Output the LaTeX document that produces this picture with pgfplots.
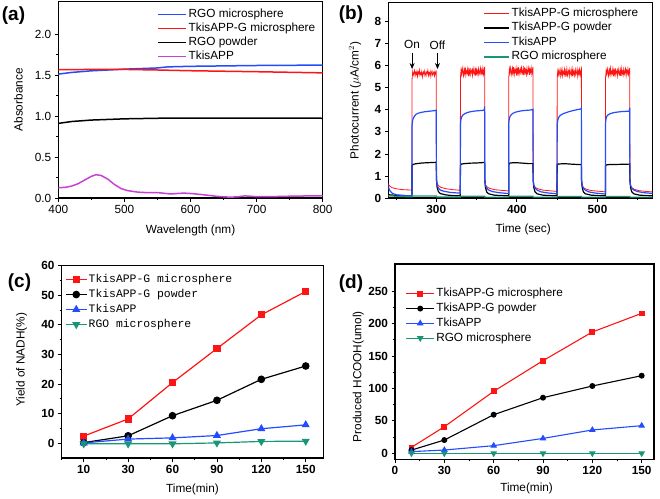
\documentclass[border=0pt]{standalone}
\usepackage{pgfplots}
\pgfplotsset{compat=1.18}
\usepackage{fontspec}
\setmainfont{Liberation Sans}
\newfontfamily\monofont{Liberation Mono}
\usetikzlibrary{arrows.meta}
\definecolor{cRed}{RGB}{255,20,20}
\definecolor{cBlue}{RGB}{35,75,255}
\definecolor{cGreen}{RGB}{25,150,120}
\definecolor{cPurple}{RGB}{200,65,210}
\pgfplotsset{
  panel/.style={
    scale only axis,
    axis line style={line width=1.2pt},
    tick style={black, line width=0.8pt},
    major tick length=3.5pt, minor tick length=2pt,
    tick align=outside, xtick pos=bottom, ytick pos=left,
    legend cell align=left,
    legend style={draw=none, fill=none,
      font=\fontsize{11.8}{13}\selectfont, row sep=0.3pt, inner sep=0pt,
      nodes={inner sep=1.5pt, text height=8.6pt, text depth=2.6pt}},
    label style={font=\fontsize{11.8}{13}\selectfont},
    tick label style={font=\fontsize{11.8}{13}\selectfont},
    /pgf/number format/assume math mode=true,
    every axis plot/.append style={line width=1.2pt},
  },
  boldticks/.style={tick label style={font=\bfseries\fontsize{11.8}{13}\selectfont}},
  linelegend/.style={legend image code/.code={\draw[##1] (0pt,0pt) -- (#1,0pt);}},
  thicklinelegend/.style={legend image code/.code={\draw[##1, line width=1.4pt] (0pt,0pt) -- (#1,0pt);}},
  marklegend/.style={legend image code/.code={\draw[mark repeat=2, mark phase=2, ##1] plot coordinates {(0pt,0pt) (#1,0pt) (2*#1,0pt)};}},
}
\begin{document}
\begin{tikzpicture}
\useasboundingbox (0pt,0pt) rectangle (660pt,-498pt);

% ---------------- (a)
\begin{axis}[panel, linelegend=28pt, at={(58.3pt,-1.7pt)}, anchor=north west,
  width=264.4pt, height=196.3pt,
  xmin=400, xmax=800, ymin=0, ymax=2.4,
  xtick={400,500,...,800}, minor x tick num=1,
  ytick={0,0.5,...,2}, minor y tick num=1,
  yticklabel style={/pgf/number format/fixed, /pgf/number format/fixed zerofill, /pgf/number format/precision=1},
  xlabel={Wavelength (nm)}, ylabel={Absorbance},
  xlabel style={at={(axis description cs:0.5,-0.163)}, anchor=center},
  ylabel style={at={(axis description cs:-0.151,0.5)}, anchor=center},
  every axis plot/.append style={line width=1.5pt},
  legend style={at={(axis description cs:0.375,0.972)}, anchor=north west, row sep=-0.2pt},
]
\addplot[cBlue] coordinates {(400,1.515) (420,1.535) (450,1.555) (500,1.575) (550,1.59) (565,1.603) (600,1.61) (700,1.62) (800,1.625)};
\addlegendentry{RGO microsphere}
\addplot[cRed] coordinates {(400,1.568) (450,1.572) (500,1.572) (550,1.565) (600,1.556) (700,1.544) (800,1.53)};
\addlegendentry{TkisAPP-G microsphere}
\addplot[black] coordinates {(400,0.912) (420,0.935) (450,0.953) (500,0.968) (550,0.975) (600,0.978) (700,0.978) (800,0.975)};
\addlegendentry{RGO powder}
\addplot[cPurple] coordinates {(400,0.126) (410,0.13) (420,0.145) (430,0.175) (440,0.22) (450,0.265) (457,0.285) (465,0.275) (475,0.23) (485,0.165) (495,0.115) (505,0.09) (520,0.072) (535,0.065) (550,0.066) (560,0.058) (570,0.049) (580,0.055) (590,0.06) (600,0.055) (610,0.048) (625,0.035) (640,0.02) (660,0.01) (672,0.015) (682,0.026) (690,0.022) (700,0.016) (720,0.016) (750,0.022) (800,0.028)};
\addlegendentry{TkisAPP}
\end{axis}
\node[font=\bfseries\fontsize{19}{20}\selectfont] at (13.5pt,-16pt) {(a)};

% ---------------- (b)
\begin{axis}[panel, boldticks, thicklinelegend=25pt, at={(388.3pt,-2.7pt)}, anchor=north west,
  width=264.4pt, height=195.3pt,
  xmin=240.5, xmax=568.5, ymin=0, ymax=8.86,
  xtick={300,400,500}, minor xtick={250,350,450,550},
  ytick={0,1,...,8},
  xlabel={Time (sec)}, ylabel={Photocurrent ($\mu$A/cm$^{2}$)},
  xlabel style={at={(axis description cs:0.51,-0.16)}, anchor=center},
  ylabel style={at={(axis description cs:-0.126,0.5)}, anchor=center},
  legend style={at={(axis description cs:0.36,0.983)}, anchor=north west, row sep=0.3pt},
]
\addplot[cRed, line width=0.8pt] coordinates {
(240,0.68) (242,0.55) (245,0.47) (250,0.42) (258,0.38) (269.9,0.36)
(270,5.40) (270.75,5.72) (271.5,5.58) (272.25,5.66) (273,5.78) (273.75,5.55) (274.5,5.69) (275.25,5.62) (276,5.75) (276.75,5.52) (277.5,5.70) (278.25,5.64) (279,5.80) (279.75,5.57) (280.5,5.68) (281.25,5.61) (282,5.74) (282.75,5.50) (283.5,5.66) (284.25,5.72) (285,5.59) (285.75,5.77) (286.5,5.63) (287.25,5.54) (288,5.71) (288.75,5.66) (289.5,5.79) (290.25,5.56) (291,5.68) (291.75,5.60) (292.5,5.73) (293.25,5.52) (294,5.69) (294.75,5.76) (295.5,5.58) (296.25,5.65) (297,5.71) (297.75,5.55) (298.5,5.74) (299.25,5.62) (300,5.70)
(300.2,0.9) (301,0.65) (303,0.55) (306,0.48) (312,0.42) (320,0.38) (329.8,0.35)
(330,5.45) (330.75,5.80) (331.5,5.62) (332.25,5.88) (333,5.70) (333.75,5.55) (334.5,5.84) (335.25,5.66) (336,5.92) (336.75,5.58) (337.5,5.76) (338.25,5.68) (339,5.86) (339.75,5.52) (340.5,5.79) (341.25,5.64) (342,5.90) (342.75,5.60) (343.5,5.74) (344.25,5.82) (345,5.57) (345.75,5.87) (346.5,5.69) (347.25,5.62) (348,5.83) (348.75,5.55) (349.5,5.91) (350.25,5.66) (351,5.77) (351.75,5.59) (352.5,5.85) (353.25,5.63) (354,5.72) (354.75,5.88) (355.5,5.56) (356.25,5.80) (357,5.67) (357.75,5.89) (358.5,5.61) (359.25,5.78) (360,5.95)
(360.2,0.85) (361,0.6) (363,0.5) (366,0.44) (372,0.38) (380,0.35) (389.8,0.32)
(390,5.50) (390.75,5.85) (391.5,5.66) (392.25,5.90) (393,5.72) (393.75,5.58) (394.5,5.88) (395.25,5.69) (396,5.94) (396.75,5.60) (397.5,5.80) (398.25,5.71) (399,5.89) (399.75,5.55) (400.5,5.83) (401.25,5.67) (402,5.93) (402.75,5.62) (403.5,5.77) (404.25,5.86) (405,5.60) (405.75,5.90) (406.5,5.72) (407.25,5.64) (408,5.87) (408.75,5.58) (409.5,5.92) (410.25,5.68) (411,5.80) (411.75,5.61) (412.5,5.88) (413.25,5.65) (414,5.75) (414.75,5.91) (415.5,5.59) (416.25,5.83) (417,5.70) (417.75,5.90) (418.5,5.63) (419.25,5.81) (420,5.95)
(420.2,0.8) (421,0.58) (423,0.48) (426,0.42) (432,0.36) (440,0.33) (449.8,0.3)
(450,5.42) (450.75,5.76) (451.5,5.60) (452.25,5.82) (453,5.66) (453.75,5.52) (454.5,5.80) (455.25,5.63) (456,5.85) (456.75,5.55) (457.5,5.72) (458.25,5.65) (459,5.83) (459.75,5.50) (460.5,5.75) (461.25,5.61) (462,5.86) (462.75,5.57) (463.5,5.70) (464.25,5.78) (465,5.54) (465.75,5.82) (466.5,5.66) (467.25,5.58) (468,5.79) (468.75,5.52) (469.5,5.85) (470.25,5.63) (471,5.73) (471.75,5.56) (472.5,5.81) (473.25,5.60) (474,5.69) (474.75,5.84) (475.5,5.53) (476.25,5.76) (477,5.64) (477.75,5.83) (478.5,5.58) (479.25,5.74) (480,5.85)
(480.2,0.8) (481,0.55) (483,0.46) (486,0.4) (492,0.34) (500,0.31) (509.8,0.28)
(510,5.45) (510.75,5.78) (511.5,5.62) (512.25,5.85) (513,5.68) (513.75,5.54) (514.5,5.82) (515.25,5.65) (516,5.88) (516.75,5.57) (517.5,5.74) (518.25,5.66) (519,5.86) (519.75,5.52) (520.5,5.77) (521.25,5.63) (522,5.89) (522.75,5.59) (523.5,5.72) (524.25,5.80) (525,5.55) (525.75,5.84) (526.5,5.68) (527.25,5.60) (528,5.81) (528.75,5.54) (529.5,5.87) (530.25,5.64) (531,5.75) (531.75,5.58) (532.5,5.83) (533.25,5.62) (534,5.71) (534.75,5.86) (535.5,5.55) (536.25,5.78) (537,5.66) (537.75,5.85) (538.5,5.60) (539.25,5.76) (540,5.90)
(540.2,0.8) (541,0.55) (543,0.45) (546,0.39) (552,0.33) (560,0.3) (570,0.27)};
\addlegendentry{TkisAPP-G microsphere}
\addplot[black] coordinates {
(240,0.15) (250,0.12) (269.8,0.1)
(270,1.45) (271,1.52) (274,1.55) (280,1.58) (288,1.6) (295,1.61) (300,1.62)
(300.2,0.85) (301,0.5) (302.5,0.3) (305,0.2) (312,0.14) (320,0.11) (329.8,0.1)
(330,1.48) (331,1.54) (335,1.56) (342,1.58) (350,1.59) (356,1.6) (360,1.62)
(360.2,0.85) (361,0.48) (362.5,0.28) (365,0.19) (372,0.13) (380,0.11) (389.8,0.1)
(390,1.52) (391,1.58) (395,1.6) (400,1.6) (408,1.58) (414,1.56) (420,1.56)
(420.2,0.85) (421,0.48) (422.5,0.28) (425,0.19) (432,0.13) (440,0.11) (449.8,0.1)
(450,1.48) (451,1.54) (455,1.55) (462,1.55) (470,1.53) (476,1.52) (480,1.52)
(480.2,0.85) (481,0.48) (482.5,0.28) (485,0.19) (492,0.13) (500,0.11) (509.8,0.1)
(510,1.45) (511,1.5) (515,1.52) (522,1.52) (530,1.53) (536,1.53) (540,1.54)
(540.2,0.85) (541,0.48) (542.5,0.28) (545,0.19) (552,0.13) (560,0.11) (570,0.1)};
\addlegendentry{TkisAPP-G powder}
\addplot[cBlue] coordinates {
(240,0.62) (241,0.45) (243,0.3) (246,0.2) (252,0.14) (260,0.11) (269.8,0.1)
(270,3.3) (270.5,3.5) (271.5,3.62) (273,3.72) (275,3.8) (278,3.85) (282,3.89) (287,3.92) (292,3.94) (297,3.96) (300,3.98)
(300.2,0.85) (301,0.6) (302.5,0.45) (305,0.36) (310,0.3) (318,0.25) (329.8,0.22)
(330,3.35) (330.5,3.55) (331.5,3.68) (333,3.76) (335,3.82) (338,3.87) (342,3.91) (347,3.94) (352,3.96) (357,3.97) (359.5,3.99) (360,4.15)
(360.2,0.8) (361,0.58) (362.5,0.45) (365,0.36) (370,0.29) (378,0.24) (389.8,0.2)
(390,3.4) (390.5,3.58) (391.5,3.7) (393,3.78) (395,3.84) (398,3.89) (402,3.93) (407,3.96) (412,3.98) (417,3.99) (420,4.02)
(420.2,0.8) (421,0.58) (422.5,0.45) (425,0.36) (430,0.28) (438,0.23) (449.8,0.19)
(450,3.3) (450.5,3.5) (451.5,3.62) (453,3.72) (456,3.8) (460,3.86) (465,3.92) (470,3.97) (475,4.01) (479.5,4.04) (480,4.08)
(480.2,0.8) (481,0.58) (482.5,0.45) (485,0.35) (490,0.27) (498,0.22) (509.8,0.18)
(510,3.4) (510.5,3.58) (511.5,3.7) (513,3.77) (516,3.83) (520,3.87) (525,3.9) (530,3.92) (535,3.93) (539.5,3.94) (540,4.1)
(540.2,0.8) (541,0.58) (542.5,0.45) (545,0.36) (550,0.29) (558,0.24) (570,0.2)};
\addlegendentry{TkisAPP}
\addplot[cGreen] coordinates {
(240,0.1) (255,0.07) (269.8,0.05) (270,0.09) (300,0.09) (300.2,0.05) (329.8,0.04) (330,0.08) (360,0.08) (360.2,0.04) (389.8,0.04) (390,0.08) (420,0.08) (420.2,0.04) (449.8,0.04) (450,0.07) (480,0.07) (480.2,0.04) (509.8,0.04) (510,0.07) (540,0.07) (540.2,0.04) (570,0.04)};
\addlegendentry{RGO microsphere}
\node[font=\fontsize{11.8}{13}\selectfont] at (axis cs:270,6.95) {On};
\node[font=\fontsize{11.8}{13}\selectfont] at (axis cs:301.5,6.95) {Off};
\draw[line width=0.9pt, -{Stealth[length=6pt,width=5pt]}] (axis cs:270,6.6) -- (axis cs:270,5.85);
\draw[line width=0.9pt, -{Stealth[length=6pt,width=5pt]}] (axis cs:301.5,6.6) -- (axis cs:301.5,5.85);
\end{axis}
\node[font=\bfseries\fontsize{19}{20}\selectfont] at (351pt,-15pt) {(b)};

% ---------------- (c)
\begin{axis}[panel, boldticks, marklegend=10.3pt, at={(61.5pt,-265.7pt)}, anchor=north west,
  width=262pt, height=192.3pt,
  xmin=-0.5, xmax=5.4, ymin=-5, ymax=60,
  xtick={0,...,5}, xticklabels={10,30,60,90,120,150},
  minor xtick={-0.5,0.5,1.5,2.5,3.5,4.5},
  ytick={0,10,...,60}, minor y tick num=1,
  xlabel={Time(min)}, ylabel={Yield of NADH(\%)},
  xlabel style={at={(axis description cs:0.5,-0.163)}, anchor=center},
  ylabel style={at={(axis description cs:-0.152,0.51)}, anchor=center},
  legend style={at={(axis description cs:0.014,0.966)}, anchor=north west, font=\monofont\fontsize{11.4}{13}\selectfont, row sep=0.8pt},
]
\addplot[cRed, mark=square*, mark size=3pt] coordinates {(0,2.4) (1,8.2) (2,20.5) (3,32) (4,43.4) (5,51.3)};
\addlegendentry{TkisAPP-G microsphere}
\addplot[black, mark=*, mark size=3.2pt] coordinates {(0,0.2) (1,2.5) (2,9.3) (3,14.5) (4,21.6) (5,26.1)};
\addlegendentry{TkisAPP-G powder}
\addplot[cBlue, mark=triangle*, mark size=3.5pt] coordinates {(0,0.1) (1,1.4) (2,1.8) (3,2.6) (4,4.9) (5,6.2)};
\addlegendentry{TkisAPP}
\addplot[cGreen, mark=triangle*, mark size=3.5pt, mark options={rotate=180}] coordinates {(0,-0.2) (1,-0.2) (2,-0.2) (3,0.1) (4,0.6) (5,0.7)};
\addlegendentry{RGO microsphere}
\end{axis}
\node[font=\bfseries\fontsize{19}{20}\selectfont] at (19.5pt,-283pt) {(c)};

% ---------------- (d)
\begin{axis}[panel, boldticks, marklegend=14pt, at={(395pt,-264pt)}, anchor=north west,
  width=259pt, height=195.3pt,
  xmin=0, xmax=157.5, ymin=-9.2, ymax=291.6,
  xtick={0,30,...,150}, minor x tick num=1,
  ytick={0,50,...,250}, minor y tick num=1,
  xlabel={Time(min)}, ylabel={Produced HCOOH(umol)},
  xlabel style={at={(axis description cs:0.508,-0.148)}, anchor=center},
  ylabel style={at={(axis description cs:-0.142,0.423)}, anchor=center},
  every axis plot/.append style={line width=1.1pt},
  legend style={at={(axis description cs:0.0405,0.885)}, anchor=north west, row sep=0.6pt},
]
\addplot[cRed, mark=square*, mark size=2.3pt] coordinates {(10,9.2) (30,41) (60,95.5) (90,142.7) (120,186.9) (150,215.6)};
\addlegendentry{TkisAPP-G microsphere}
\addplot[black, mark=*, mark size=2.4pt] coordinates {(10,5) (30,20.5) (60,59.5) (90,85.7) (120,103.7) (150,119.6)};
\addlegendentry{TkisAPP-G powder}
\addplot[cBlue, mark=triangle*, mark size=2.8pt] coordinates {(10,2.6) (30,5.1) (60,11.8) (90,23) (120,36) (150,42.6)};
\addlegendentry{TkisAPP}
\addplot[cGreen, mark=triangle*, mark size=2.8pt, mark options={rotate=180}] coordinates {(10,0) (30,0) (60,0) (90,0) (120,0) (150,0)};
\addlegendentry{RGO microsphere}
\end{axis}
\node[font=\bfseries\fontsize{19}{20}\selectfont] at (351pt,-284pt) {(d)};
\end{tikzpicture}
\end{document}
